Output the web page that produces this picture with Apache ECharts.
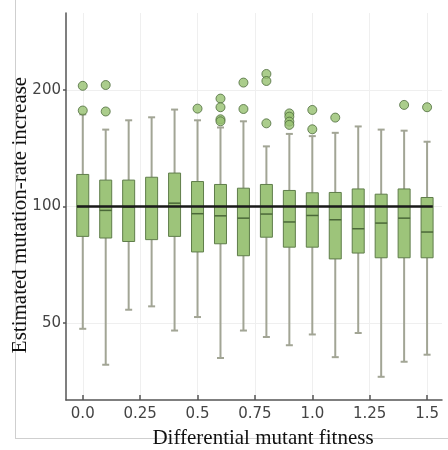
<!DOCTYPE html>
<html>
<head>
<meta charset="utf-8">
<script src="https://cdn.jsdelivr.net/npm/echarts@6/dist/echarts.min.js"></script>
<style>html,body{margin:0;padding:0;background:#fff}#c{width:448px;height:450px}</style>
</head>
<body>
<div id="c"></div>
<script>
// Data
const fitness     = [0.0, 0.1, 0.2, 0.3, 0.4, 0.5, 0.6, 0.7, 0.8, 0.9, 1.0, 1.1, 1.2, 1.3, 1.4, 1.5];
const whiskerHigh = [173, 158, 167, 170, 178, 167, 160, 166, 143, 154, 152, 155, 161, 158, 157, 147];
const q3          = [121, 117, 117, 119, 122, 116, 114, 111.5, 114, 110, 108.5, 108.7, 111, 107.6, 111, 105.5];
const median      = [100, 97.7, 99.6, 100, 102, 95.8, 94.6, 93.3, 95.6, 91.2, 94.8, 92.4, 87.6, 90.6, 93.3, 85.9];
const q1          = [83.7, 82.9, 81.2, 82.1, 83.7, 76.3, 80.1, 74.6, 83.3, 78.5, 78.5, 73.2, 75.8, 73.7, 73.7, 73.7];
const whiskerLow  = [48.3, 39.0, 54.1, 55.2, 47.8, 51.8, 40.6, 47.8, 46.0, 43.8, 46.7, 40.8, 47.1, 36.3, 39.7, 41.4];
const outlierX    = [0.0, 0.0, 0.1, 0.1, 0.5, 0.6, 0.6, 0.6, 0.6, 0.7, 0.7, 0.8, 0.8, 0.8, 0.9, 0.9, 0.9, 0.9, 1.0, 1.0, 1.1, 1.4, 1.5];
const outlierY    = [205, 177, 206, 176, 179, 190, 180.5, 168, 166, 209, 178.6, 220, 211, 164, 174, 170.7, 165.7, 162.5, 177.6, 158.3, 169.7, 183, 180.5];
const xTicks      = [0, 0.25, 0.5, 0.75, 1.0, 1.25, 1.5];
const xTickLabels = ['0.0', '0.25', '0.5', '0.75', '1.0', '1.25', '1.5'];
const yTicks      = [50, 100, 200];
const referenceValue = 100;
const referenceSpan  = [-0.025, 1.525];
const xTitle = 'Differential mutant fitness';
const yTitle = 'Estimated mutation-rate increase';

const boxData = fitness.map((f, i) => [f, whiskerLow[i], q1[i], median[i], q3[i], whiskerHigh[i]]);
const outlierData = outlierX.map((x, i) => [x, outlierY[i]]);

const chart = echarts.init(document.getElementById('c'), null, {renderer: 'canvas'});
const BOX_FILL = '#9dc47a', BOX_STROKE = '#5f7d4a', MED = '#4a6838', WHISK = '#a2a595';

chart.setOption({
  animation: false,
  backgroundColor: '#fff',
  grid: {left: 66, right: 6, top: 13, bottom: 50},
  xAxis: {
    type: 'value', min: -0.073, max: 1.565,
    axisLine: {show: true, onZero: false, lineStyle: {color: '#555', width: 1.5}},
    axisTick: {show: true, inside: true, length: 5, customValues: xTicks, lineStyle: {color: '#555', width: 1.5}},
    axisLabel: {
      customValues: xTicks, margin: 7, fontSize: 15, color: '#444', fontFamily: 'DejaVu Sans',
      formatter: v => { const k = xTicks.findIndex(t => Math.abs(t - v) < 1e-6); return k >= 0 ? xTickLabels[k] : ''; }
    },
    splitLine: {show: true, lineStyle: {color: '#efefef', width: 1}}
  },
  yAxis: {
    type: 'log', logBase: 10, min: 31.62, max: 316.2,
    axisLine: {show: true, onZero: false, lineStyle: {color: '#555', width: 1.5}},
    axisTick: {show: true, length: 3, customValues: yTicks, lineStyle: {color: '#555', width: 1.5}},
    axisLabel: {customValues: yTicks, margin: 5, fontSize: 15, color: '#444', fontFamily: 'DejaVu Sans'},
    splitLine: {show: true, lineStyle: {color: '#efefef', width: 1}},
    minorTick: {show: false}, minorSplitLine: {show: false}
  },
  graphic: [
    {type: 'line', silent: true, z: -10, shape: {x1: 15.5, y1: 0, x2: 15.5, y2: 438.5}, style: {stroke: '#cfcfcf', lineWidth: 1}},
    {type: 'line', silent: true, z: -10, shape: {x1: 15, y1: 438.5, x2: 448, y2: 438.5}, style: {stroke: '#cfcfcf', lineWidth: 1}},
    {type: 'text', x: 20, y: 215, rotation: Math.PI / 2, z: 10,
      style: {text: yTitle, font: '21px "Liberation Serif"', fill: '#111', textAlign: 'center', textVerticalAlign: 'middle'}},
    {type: 'text', x: 263, y: 438, z: 10,
      style: {text: xTitle, font: '21px "Liberation Serif"', fill: '#111', textAlign: 'center', textVerticalAlign: 'middle'}}
  ],
  series: [
    {
      type: 'custom',
      data: boxData,
      encode: {x: 0, y: [1, 2, 3, 4, 5]},
      z: 2,
      renderItem: function (params, api) {
        const x = api.value(0);
        const lo = api.coord([x, api.value(1)]);
        const b1 = api.coord([x, api.value(2)]);
        const md = api.coord([x, api.value(3)]);
        const b3 = api.coord([x, api.value(4)]);
        const hi = api.coord([x, api.value(5)]);
        const cx = lo[0], bw = 12, cw = 7;
        const ws = {stroke: WHISK, lineWidth: 2};
        return {type: 'group', children: [
          {type: 'line', shape: {x1: cx, y1: hi[1], x2: cx, y2: b3[1]}, style: ws},
          {type: 'line', shape: {x1: cx, y1: b1[1], x2: cx, y2: lo[1]}, style: ws},
          {type: 'line', shape: {x1: cx - cw / 2, y1: hi[1], x2: cx + cw / 2, y2: hi[1]}, style: ws},
          {type: 'line', shape: {x1: cx - cw / 2, y1: lo[1], x2: cx + cw / 2, y2: lo[1]}, style: ws},
          {type: 'rect', shape: {x: cx - bw / 2, y: b3[1], width: bw, height: b1[1] - b3[1]},
            style: {fill: BOX_FILL, stroke: BOX_STROKE, lineWidth: 1}},
          {type: 'line', shape: {x1: cx - bw / 2, y1: md[1], x2: cx + bw / 2, y2: md[1]}, style: {stroke: MED, lineWidth: 1.5}}
        ]};
      }
    },
    {
      type: 'scatter', data: outlierData, symbol: 'circle', symbolSize: 9, z: 3,
      itemStyle: {color: '#96c16f', borderColor: '#4e6b3c', borderWidth: 1}
    },
    {
      type: 'line', data: [[referenceSpan[0], referenceValue], [referenceSpan[1], referenceValue]],
      symbol: 'none', z: 4, lineStyle: {color: '#1a1a1a', width: 2.5}
    }
  ]
});
</script>
</body>
</html>
